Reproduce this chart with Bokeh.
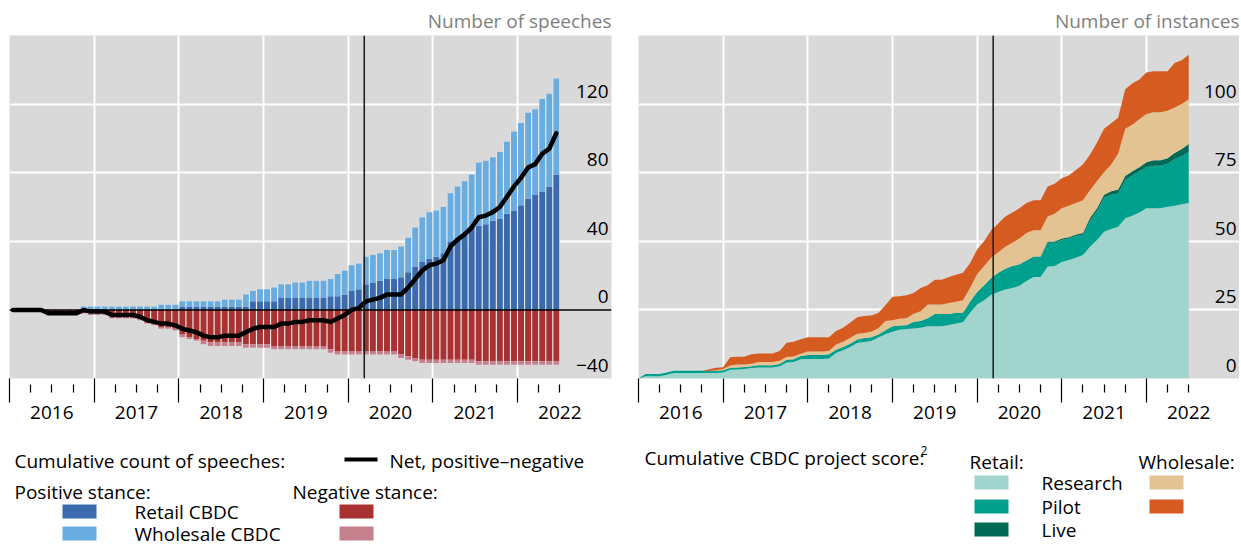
from bokeh.plotting import figure
from bokeh.models import Range1d, FixedTicker, LinearAxis, Span, ColumnDataSource, Grid
from bokeh.layouts import row, column
from bokeh.core.properties import value
from bokeh.transform import stack
from bokeh.embed import file_html
from bokeh.resources import INLINE

FONT = "Open Sans"
FS = "19px"

# ---------------- Left panel data: monthly, Jan 2016 .. Jun 2022 ----------------
speech_month = list(range(78))  # months since Jan 2016
retail_pos = [0, 0, 0, 0, 0, 0, 0, 0, 0, 0,
              0, 0, 0, 0, 0, 0, 0, 0, 0, 0,
              0, 0, 0, 0, 2, 2, 2, 2, 2, 2,
              2, 2, 2, 2, 5, 5, 5, 5, 7, 7,
              7, 7, 7, 7, 7, 8, 8, 9, 11, 12,
              15, 16, 17, 18, 18, 19, 22, 25, 28, 30,
              31, 33, 40, 42, 44, 49, 49, 50, 52, 53,
              56, 58, 61, 65, 67, 69, 72, 79]
wholesale_pos = [0, 0, 0, 0, 0, 0, 0, 0, 0, 0,
                 2, 2, 2, 2, 2, 2, 2, 2, 2, 2,
                 2, 3, 3, 3, 3, 3, 3, 3, 3, 3,
                 4, 4, 4, 7, 6, 7, 7, 8, 8, 8,
                 9, 9, 10, 10, 10, 10, 13, 14, 15, 15,
                 16, 16, 16, 17, 17, 18, 20, 23, 26, 27,
                 27, 27, 28, 30, 31, 30, 37, 37, 37, 39,
                 42, 46, 48, 50, 50, 54, 54, 56]
retail_neg = [0, 0, 0, 0, 0, -2, -2, -2, -2, -2,
              -2, -2, -2, -2, -3, -3, -3, -3, -5, -6,
              -8, -10, -10, -11, -14, -16, -17, -18, -19, -19,
              -19, -19, -19, -20, -20, -20, -20, -21, -21, -21,
              -21, -21, -21, -21, -21, -23, -24, -24, -24, -24,
              -24, -24, -24, -24, -24, -26, -27, -28, -29, -29,
              -29, -29, -29, -29, -29, -29, -30, -30, -30, -30,
              -30, -30, -30, -30, -30, -30, -30, -30]
wholesale_neg = [0, 0, 0, 0, 0, 0, 0, 0, 0, 0,
                 0, -1, -1, -1, -2, -2, -2, -2, -1, -2,
                 -1, -1, -1, -1, -2, -1, -1, -2, -2, -2,
                 -2, -2, -2, -2, -2, -2, -2, -2, -2, -2,
                 -2, -2, -2, -2, -2, -2, -2, -2, -2, -2,
                 -2, -2, -2, -2, -2, -2, -2, -2, -2, -2,
                 -2, -2, -2, -2, -2, -2, -2, -2, -2, -2,
                 -2, -2, -2, -2, -2, -2, -2, -2]
net_stance = [0, 0, 0, 0, 0, -2, -2, -2, -2, -2,
              0, -1, -1, -1, -3, -3, -3, -3, -4, -6,
              -7, -8, -8, -9, -11, -12, -13, -15, -16, -16,
              -15, -15, -15, -13, -11, -10, -10, -10, -8, -8,
              -7, -7, -6, -6, -6, -7, -5, -3, 0, 1,
              5, 6, 7, 9, 9, 9, 13, 18, 23, 26,
              27, 29, 37, 41, 44, 48, 54, 55, 57, 60,
              66, 72, 77, 83, 85, 91, 94, 103]

# ---------------- Right panel data: monthly, Jan 2016 .. Jul 2022 ----------------
project_month = list(range(79))
retail_research = [0, 0.8, 0.8, 0.8, 1.4, 2, 2, 2, 2, 2,
                   2, 2, 2.2, 3.2, 3.3, 3.5, 3.8, 4, 4, 4,
                   4.5, 5.8, 6, 7, 7.1, 7.1, 7.1, 7.3, 9.3, 10.3,
                   11.5, 12.9, 13.3, 13.7, 14.9, 16.1, 17, 17.8, 18, 18.2,
                   18.5, 19, 19, 19, 19.5, 20, 20.5, 24, 27, 28.5,
                   30.5, 31.5, 32.4, 33, 33.8, 35.5, 37, 37, 40.8, 41,
                   42.5, 43.2, 44, 45, 48, 50.5, 53.5, 54.5, 55.3, 58.4,
                   59.3, 60.5, 62, 62, 62, 62.6, 63, 63.5, 64]
retail_pilot = [0, 0.8, 0.8, 0.8, 0.8, 0.8, 0.8, 0.8, 0.8, 0.8,
                0.8, 0.8, 0.8, 0.7, 0.7, 0.7, 0.7, 0.8, 0.8, 0.8,
                0.8, 1.0, 1.0, 1.2, 1.5, 1.5, 1.5, 1.5, 1.2, 1.2,
                1.2, 1.3, 1.5, 1.3, 1.1, 1.5, 2.0, 1.5, 1.4, 2.5,
                2.5, 3.0, 4.5, 4.5, 4.0, 4.0, 3.5, 4.0, 4.5, 5.5,
                6.1, 7.0, 7.6, 8.0, 7.8, 7.5, 7.5, 7.5, 8.7, 8.5,
                8.0, 7.8, 8.0, 7.4, 9.5, 10.5, 12.5, 12.5, 12.1, 13.9,
                14.7, 15.0, 15.0, 15.5, 15.5, 15.7, 17.0, 17.5, 18.5]
retail_live = [0, 0, 0, 0, 0, 0, 0, 0, 0, 0,
               0, 0, 0, 0, 0, 0, 0, 0, 0, 0,
               0, 0, 0, 0, 0, 0, 0, 0, 0, 0,
               0, 0, 0, 0, 0, 0, 0, 0, 0, 0,
               0, 0, 0, 0, 0, 0, 0, 0, 0, 0,
               0, 0, 0, 0, 0, 0, 0, 0, 0.4, 0.4,
               0.5, 0.5, 0.5, 0.6, 1.0, 1.0, 1.0, 1.2, 1.5, 1.5,
               1.5, 1.5, 1.8, 2.0, 2.0, 2.0, 2.2, 2.6, 3.0]
wholesale_research = [0, 0, 0, 0, 0, 0, 0, 0, 0, 0,
                      0, 0.2, 0.5, 0.8, 1.1, 0.9, 0.9, 1.2, 1.2, 1.2,
                      1.2, 1.0, 1.0, 0.8, 1.2, 1.2, 1.2, 1.2, 1.9, 1.9,
                      2.1, 2.1, 1.8, 2.0, 2.3, 3.4, 2.2, 2.5, 2.6, 2.9,
                      3.5, 5.0, 3.5, 3.5, 4.0, 4.0, 4.5, 5.0, 6.5, 7.0,
                      7.4, 7.5, 8.0, 8.5, 9.4, 10.0, 9.5, 9.5, 9.1, 10.1,
                      11.0, 11.5, 11.5, 12.0, 10.1, 10.0, 8.2, 9.8, 13.1, 17.2,
                      17.0, 17.5, 17.6, 17.5, 17.5, 17.3, 16.6, 16.4, 16.3]
wholesale_pilot = [0, 0, 0, 0, 0, 0, 0, 0, 0, 0,
                   0.6, 0.9, 0.6, 3.0, 2.8, 2.8, 3.4, 3.1, 3.1, 3.1,
                   3.5, 5.2, 5.4, 5.3, 5.2, 5.2, 5.2, 5.0, 4.9, 5.1,
                   5.5, 6.0, 6.2, 6.0, 5.6, 5.7, 8.6, 8.2, 8.3, 7.6,
                   8.5, 7.0, 9.0, 9.0, 9.5, 9.8, 10.0, 9.0, 9.0, 9.0,
                   10.0, 10.5, 11.0, 11.0, 11.0, 11.0, 11.0, 11.0, 11.0, 11.0,
                   11.0, 11.0, 12.0, 13.0, 12.9, 14.0, 15.8, 15.0, 13.0, 14.4,
                   15.0, 14.5, 15.1, 15.0, 15.0, 14.4, 16.2, 16.0, 16.2]

years = [2016, 2017, 2018, 2019, 2020, 2021, 2022]
year_labels = ["2016", "2017", "2018", "2019", "2020", "2021", "2022"]
left_ticks = [-40, 0, 40, 80, 120]
left_tick_labels = ["\u221240", "0", "40", "80", "120"]
right_ticks = [0, 25, 50, 75, 100]
right_tick_labels = ["0", "25", "50", "75", "100"]
marker_date = 2020.19  # vertical reference line

C_RET_POS = "#3b6aad"
C_WHS_POS = "#68ace0"
C_RET_NEG = "#a83232"
C_WHS_NEG = "#c4808c"
C_RESEARCH = "#a0d4cc"
C_PILOT = "#00a08f"
C_LIVE = "#006a55"
C_W_RESEARCH = "#e2c391"
C_W_PILOT = "#d65b20"
BG = "#d9d9d9"

MAIN_H = 428


def base_fig(width, x_end, y0, y1, min_left, min_right):
    p = figure(width=width, height=MAIN_H, x_range=Range1d(2016, x_end), y_range=Range1d(y0, y1),
               output_backend="svg", toolbar_location=None,
               x_axis_location=None, y_axis_location=None,
               min_border_left=min_left, min_border_right=min_right,
               min_border_top=35, min_border_bottom=50,
               background_fill_color=BG, border_fill_color="white",
               outline_line_color=None)
    p.center = [r for r in p.center if not isinstance(r, Grid)]
    p.add_layout(Grid(dimension=0, ticker=FixedTicker(ticks=years[1:]),
                      grid_line_color="white", grid_line_width=2))
    return p


def add_x_axes(p):
    quarters = [y + q / 4 for y in years[:-1] for q in (1, 2, 3)] + [2022.25, 2022.5]
    ax_ticks = LinearAxis(ticker=FixedTicker(ticks=years, minor_ticks=quarters),
                          major_tick_in=0, major_tick_out=24,
                          minor_tick_in=-6, minor_tick_out=14,
                          major_tick_line_color="black", minor_tick_line_color="black",
                          major_tick_line_width=1.2, minor_tick_line_width=1.2,
                          axis_line_color=None, major_label_text_font_size="0px",
                          major_label_standoff=0)
    ax_ticks.major_label_overrides = {y: "" for y in years}
    mids = [y + 0.5 for y in years]
    ax_labels = LinearAxis(ticker=FixedTicker(ticks=mids, minor_ticks=[]),
                           major_tick_line_color=None, minor_tick_line_color=None,
                           axis_line_color=None,
                           major_label_text_font=FONT, major_label_text_font_size=FS,
                           major_label_text_color="black", major_label_standoff=-3)
    ax_labels.major_label_overrides = {m: lab for m, lab in zip(mids, year_labels)}
    p.add_layout(ax_ticks, "below")
    p.add_layout(ax_labels, "below")


def set_title(p, text):
    p.title.text = text
    p.title.align = "right"
    p.title.text_font = FONT
    p.title.text_font_size = FS
    p.title.text_font_style = "normal"
    p.title.text_color = "#7f7f7f"
    p.title.text_line_height = 1.0
    p.title.standoff = 3


# ---------------- Left panel ----------------
x_end_left = 2023.11
p1 = base_fig(624, x_end_left, -40, 160, 9, 13)
p1.add_layout(Grid(dimension=1, ticker=FixedTicker(ticks=[40, 80, 120]),
                   grid_line_color="white", grid_line_width=2))
set_title(p1, "Number of speeches")
add_x_axes(p1)

src1 = ColumnDataSource(dict(
    x=[2016 + (m + 0.5) / 12 for m in speech_month],
    retail_pos=retail_pos, wholesale_pos=wholesale_pos,
    retail_neg=retail_neg, wholesale_neg=wholesale_neg, net=net_stance))

p1.vbar(x="x", width=1 / 12, top=stack("retail_pos", "wholesale_pos"),
        bottom=stack("retail_neg", "wholesale_neg"), source=src1,
        fill_color="#f1f1f1", line_color=None)
p1.vbar_stack(["retail_pos", "wholesale_pos"], x="x", width=0.84 / 12, source=src1,
              color=[C_RET_POS, C_WHS_POS], line_color=None)
p1.vbar_stack(["retail_neg", "wholesale_neg"], x="x", width=0.84 / 12, source=src1,
              color=[C_RET_NEG, C_WHS_NEG], line_color=None)
p1.add_layout(Span(location=0, dimension="width", line_color="black", line_width=1.5))
p1.add_layout(Span(location=marker_date, dimension="height", line_color="#1a1a1a", line_width=1.5))
p1.line(x="x", y="net", source=src1, line_color="black", line_width=4.5,
        line_join="round", line_cap="round")
p1.text(x=[x_end_left] * len(left_ticks), y=left_ticks, text=left_tick_labels,
        text_font=value(FONT), text_font_size=FS, text_align="right",
        text_baseline="middle", x_offset=-3, y_offset=-13, text_color="black")

# ---------------- Right panel ----------------
x_end_right = 2023.10
p2 = base_fig(615, x_end_right, 0, 125, 14, 0)
p2.add_layout(Grid(dimension=1, ticker=FixedTicker(ticks=[25, 50, 75, 100]),
                   grid_line_color="white", grid_line_width=2))
set_title(p2, "Number of instances")
add_x_axes(p2)

src2 = ColumnDataSource(dict(
    x=[2016 + m / 12 for m in project_month],
    research=retail_research, pilot=retail_pilot, live=retail_live,
    w_research=wholesale_research, w_pilot=wholesale_pilot))
p2.varea_stack(["research", "pilot", "live", "w_research", "w_pilot"], x="x", source=src2,
               color=[C_RESEARCH, C_PILOT, C_LIVE, C_W_RESEARCH, C_W_PILOT])
p2.add_layout(Span(location=marker_date, dimension="height", line_color="#1a1a1a", line_width=1.5))
p2.text(x=[x_end_right] * len(right_ticks), y=right_ticks, text=right_tick_labels,
        text_font=value(FONT), text_font_size=FS, text_align="right",
        text_baseline="middle", x_offset=-3, y_offset=-13, text_color="black")


# ---------------- Legends ----------------
def legend_fig(w, h):
    f = figure(width=w, height=h, x_range=Range1d(0, w), y_range=Range1d(h, 0),
               output_backend="svg", toolbar_location=None,
               x_axis_location=None, y_axis_location=None, min_border=0,
               outline_line_color=None, background_fill_color="white",
               border_fill_color="white")
    f.center = [r for r in f.center if not isinstance(r, Grid)]
    return f


def txt(f, x, y, s, size=FS):
    f.text(x=[x], y=[y], text=[s], text_font=value(FONT), text_font_size=size,
           text_align="left", text_baseline="middle", text_color="black")


def swatch(f, x, y, color, h=14):
    f.quad(left=[x], right=[x + 34], top=[y], bottom=[y + h], fill_color=color, line_color=None)


LH = 119
l1 = legend_fig(624, LH)
txt(l1, 14, 32, "Cumulative count of speeches:")
l1.line(x=[344, 377], y=[31, 31], line_color="black", line_width=4)
txt(l1, 389, 32, "Net, positive\u2013negative")
txt(l1, 14, 63, "Positive stance:")
txt(l1, 292, 63, "Negative stance:")
swatch(l1, 62, 76, C_RET_POS)
txt(l1, 134, 83, "Retail CBDC")
swatch(l1, 339, 76, C_RET_NEG)
swatch(l1, 62, 98, C_WHS_POS)
txt(l1, 134, 105, "Wholesale CBDC")
swatch(l1, 339, 98, C_WHS_NEG)

l2 = legend_fig(615, LH)
txt(l2, 20, 29, "Cumulative CBDC project score:")
txt(l2, 296, 22, "2", size="12px")
txt(l2, 345, 33, "Retail:")
txt(l2, 514, 33, "Wholesale:")
swatch(l2, 350, 47, C_RESEARCH)
txt(l2, 417, 54, "Research")
swatch(l2, 525, 47, C_W_RESEARCH)
swatch(l2, 350, 71, C_PILOT)
txt(l2, 417, 78, "Pilot")
swatch(l2, 525, 71, C_W_PILOT)
swatch(l2, 350, 94, C_LIVE)
txt(l2, 417, 101, "Live")

layout = column(row(p1, p2, spacing=0), row(l1, l2, spacing=0), spacing=0)
open("out.html", "w").write(file_html(layout, INLINE))
